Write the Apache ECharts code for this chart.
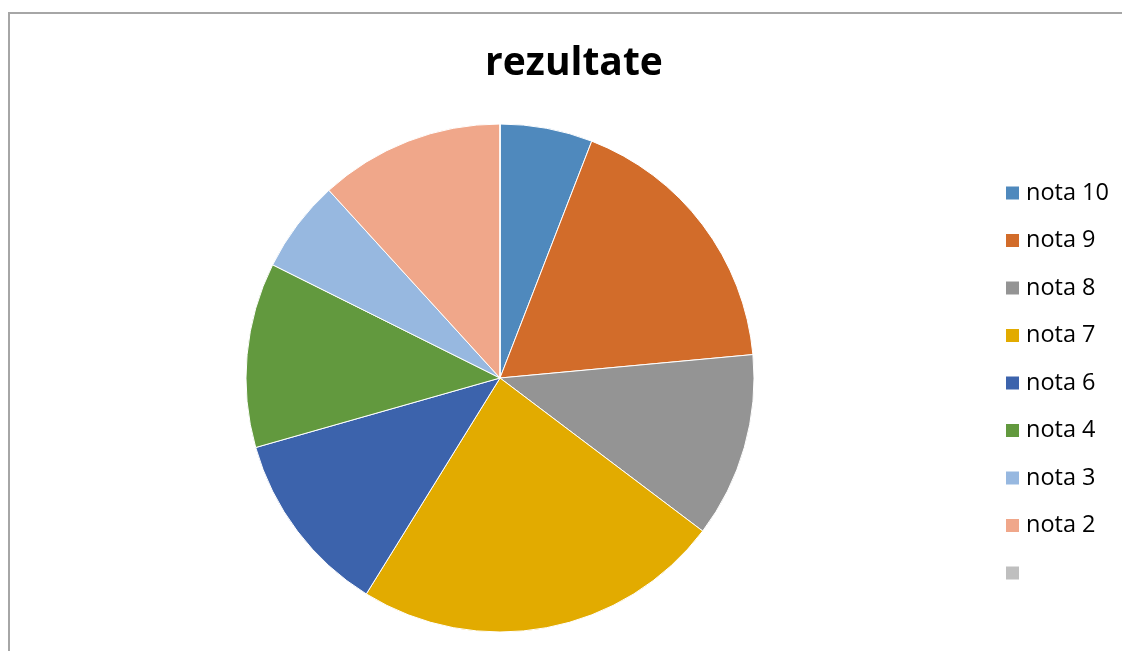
<!DOCTYPE html>
<html>
<head>
<meta charset="utf-8">
<script src="https://cdn.jsdelivr.net/npm/echarts@6/dist/echarts.min.js"></script>
<style>
	html, body { margin: 0; padding: 0; background: #fff; overflow: hidden; }
	#frame { position: absolute; left: 8px; top: 12px; width: 1200px; height: 700px; border-left: 2px solid #a6a6a6; border-top: 2px solid #a6a6a6; }
	#chart_rezultate { position: absolute; left: 0; top: 0; width: 1122px; height: 651px; }
</style>
</head>
<body>
<div id="frame"></div>
<div id="chart_rezultate"></div>
<script>
//categorii si valori
var categorii = ["nota 10", "nota 9", "nota 8", "nota 7", "nota 6", "nota 4", "nota 3", "nota 2", " "];
var valori = [1, 3, 2, 4, 2, 2, 1, 2, 0];
var culori = ["#4F89BD", "#D26C2A", "#949494", "#E2AB00", "#3C63AC", "#62993E", "#97B8E0", "#F0A78A", "#BFBFBF"];

var pieData = new Array();
for(var i = 0; i < categorii.length; i++) {
	pieData.push({
		name: categorii[i],
		value: valori[i],
		itemStyle: { color: culori[i] }
	});
}

var option_rezultate = {
	title: {
		text: 'rezultate',
		left: 569,
		top: 39,
		textAlign: 'center',
		textStyle: {
			fontFamily: 'Open Sans',
			fontWeight: 'bold',
			fontSize: 39,
			color: '#000'
		}
	},
	legend: {
		orient: 'vertical',
		left: 1004,
		top: 181,
		padding: 0,
		itemWidth: 15,
		itemHeight: 15,
		itemGap: 23.5,
		icon: 'rect',
		data: categorii,
		textStyle: {
			fontFamily: 'Open Sans',
			fontSize: 23.5,
			lineHeight: 21,
			color: '#000',
			padding: [0, 0, 0, 1]
		}
	},
	series: [{
		type: 'pie',
		center: [500, 378],
		radius: 254,
		startAngle: 90,
		clockwise: true,
		label: { show: false },
		labelLine: { show: false },
		emphasis: { disabled: true },
		itemStyle: {
			borderColor: '#fff',
			borderWidth: 1
		},
		data: pieData
	}]
};
var rezultateChart = echarts.init(document.getElementById("chart_rezultate"));
rezultateChart.setOption(option_rezultate);
</script>
</body>
</html>
